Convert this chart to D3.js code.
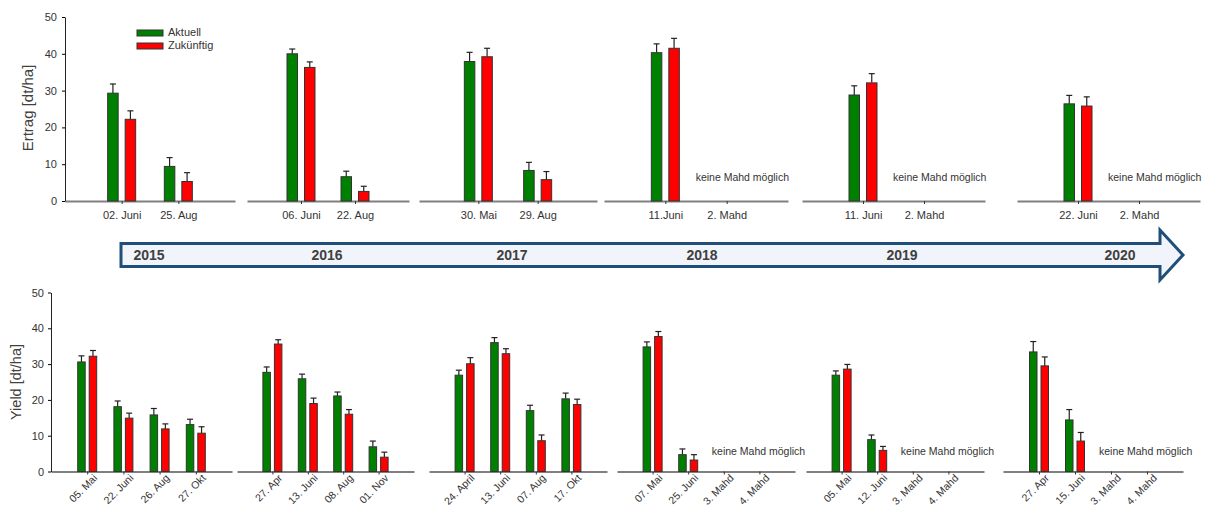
<!DOCTYPE html>
<html>
<head>
<meta charset="utf-8">
<script src="https://cdn.jsdelivr.net/npm/d3@7"></script>
<style>
  body { margin: 0; background: #fff; }
  text { font-family: "Liberation Sans", Arial, sans-serif; }
</style>
</head>
<body>
<div id="my_dataviz"></div>
<script>
// ---- data ----
var years = ["2015", "2016", "2017", "2018", "2019", "2020"];

// top row: two cuts per year (german labels)
var topDates = [
  ["02. Juni", "25. Aug"], ["06. Juni", "22. Aug"], ["30. Mai", "29. Aug"],
  ["11.Juni", "2. Mahd"], ["11. Juni", "2. Mahd"], ["22. Juni", "2. Mahd"]
];
var topAktuell    = [[29.3, 9.4], [40.0, 6.6], [37.9, 8.3], [40.3, null], [28.8, null], [26.4, null]];
var topAktuellErr = [[2.5, 2.4], [1.3, 1.5], [2.5, 2.2], [2.4, null], [2.5, null], [2.3, null]];
var topZukunft    = [[22.2, 5.3], [36.3, 2.6], [39.2, 5.8], [41.5, null], [32.1, null], [25.8, null]];
var topZukunftErr = [[2.3, 2.4], [1.5, 1.4], [2.3, 2.2], [2.7, null], [2.5, null], [2.5, null]];
var topNote = [false, false, false, true, true, true];

// bottom row: four cuts per year
var botDates = [
  ["05. Mai", "22. Juni", "26. Aug", "27. Okt"],
  ["27. Apr", "13. Juni", "08. Aug", "01. Nov"],
  ["24. April", "13. Juni", "07. Aug", "17. Okt"],
  ["07. Mai", "25. Juni", "3. Mahd", "4. Mahd"],
  ["05. Mai", "12. Juni", "3. Mahd", "4. Mahd"],
  ["27. Apr", "15. Juni", "3. Mahd", "4. Mahd"]
];
var botAktuell    = [[30.6, 18.1, 15.8, 13.1], [27.7, 25.9, 21.1, 6.9], [26.9, 36.0, 17.0, 20.3],
                     [34.8, 4.7, null, null], [26.9, 8.9, null, null], [33.4, 14.4, null, null]];
var botAktuellErr = [[1.7, 1.6, 1.8, 1.5], [1.5, 1.3, 1.1, 1.6], [1.4, 1.4, 1.5, 1.6],
                     [1.4, 1.6, null, null], [1.2, 1.3, null, null], [2.9, 2.9, null, null]];
var botZukunft    = [[32.2, 14.9, 11.9, 10.7], [35.6, 19.0, 16.0, 4.0], [30.1, 32.9, 8.6, 18.7],
                     [37.7, 3.2, null, null], [28.6, 5.9, null, null], [29.5, 8.5, null, null]];
var botZukunftErr = [[1.6, 1.4, 1.4, 1.8], [1.2, 1.5, 1.3, 1.4], [1.7, 1.4, 1.6, 1.5],
                     [1.4, 1.5, null, null], [1.3, 1.1, null, null], [2.5, 2.4, null, null]];
var botNote = [false, false, false, true, true, true];

var seriesNames = ["Aktuell", "Zukünftig"];
var seriesColors = ["#008000", "#ff0000"];
var noteText = "keine Mahd möglich";

// ---- layout ----
var width = 1208, height = 508;
var topRanges = [[65, 235], [247, 409], [419, 597], [604, 788], [802, 985], [1017, 1200]];
var botRanges = [[51, 232], [237, 414], [429, 607], [617, 795], [806, 984], [1003, 1183]];
var yearX = [149, 327, 512, 702, 902, 1120];

var svg = d3.select("#my_dataviz")
  .append("svg")
    .attr("width", width)
    .attr("height", height);

var yTop = d3.scaleLinear().domain([0, 50]).range([201, 17]);
var yBot = d3.scaleLinear().domain([0, 50]).range([471.5, 292.5]);

function drawPanel(dates, aVals, aErr, zVals, zErr, range, y, opt) {
  var g = svg.append("g");
  var x = d3.scalePoint().domain(dates).range(range).padding(1);
  var base = y(0);

  // x axis / baseline
  var ax = g.append("g")
    .attr("transform", "translate(0," + base + ")")
    .call(d3.axisBottom(x).tickSize(3).tickSizeOuter(0).tickPadding(opt.pad));
  ax.select(".domain").attr("stroke", "#808080").attr("stroke-width", 2);
  ax.selectAll(".tick line").attr("stroke", "#333");
  ax.selectAll("text")
    .style("font-size", opt.fs + "px")
    .attr("fill", "#333");
  if (opt.rotate) {
    ax.selectAll("text")
      .style("text-anchor", "end")
      .attr("dx", "0.2em")
      .attr("dy", "0.5em")
      .attr("transform", "rotate(-45)");
  }

  var series = [[aVals, aErr], [zVals, zErr]];
  series.forEach(function(s, k) {
    var pts = dates.map(function(d, i) { return {cat: d, v: s[0][i], e: s[1][i]}; })
      .filter(function(d) { return d.v != null; });
    var xOf = function(d) {
      return k == 0 ? x(d.cat) - opt.gap / 2 - opt.bw : x(d.cat) + opt.gap / 2;
    };
    // error bars (upper only)
    g.selectAll(null).data(pts).enter().append("line")
      .attr("x1", function(d) { return xOf(d) + opt.bw / 2; })
      .attr("x2", function(d) { return xOf(d) + opt.bw / 2; })
      .attr("y1", function(d) { return y(d.v); })
      .attr("y2", function(d) { return y(d.v + d.e); })
      .attr("stroke", "#222").attr("stroke-width", 1.2);
    g.selectAll(null).data(pts).enter().append("line")
      .attr("x1", function(d) { return xOf(d) + opt.bw / 2 - 3; })
      .attr("x2", function(d) { return xOf(d) + opt.bw / 2 + 3; })
      .attr("y1", function(d) { return y(d.v + d.e); })
      .attr("y2", function(d) { return y(d.v + d.e); })
      .attr("stroke", "#222").attr("stroke-width", 1.2);
    // bars
    g.selectAll(null).data(pts).enter().append("rect")
      .attr("x", xOf)
      .attr("y", function(d) { return y(d.v); })
      .attr("width", opt.bw)
      .attr("height", function(d) { return base - y(d.v); })
      .attr("fill", seriesColors[k])
      .attr("stroke", "#333")
      .attr("stroke-width", 1);
  });

  if (opt.note) {
    g.append("text")
      .attr("x", x(dates[opt.noteIdx]) + opt.noteDx)
      .attr("y", y(opt.noteY))
      .style("font-size", "10.5px")
      .attr("fill", "#333")
      .text(noteText);
  }
  return x;
}

// top row
years.forEach(function(yr, i) {
  drawPanel(topDates[i], topAktuell[i], topAktuellErr[i], topZukunft[i], topZukunftErr[i],
    topRanges[i], yTop,
    {bw: 10.5, gap: 7, fs: 11, pad: 7, rotate: false,
     note: topNote[i], noteIdx: 1, noteDx: -31, noteY: 5.5});
});

// bottom row
years.forEach(function(yr, i) {
  drawPanel(botDates[i], botAktuell[i], botAktuellErr[i], botZukunft[i], botZukunftErr[i],
    botRanges[i], yBot,
    {bw: 7.5, gap: 4, fs: 10.5, pad: 4, rotate: true,
     note: botNote[i], noteIdx: 2, noteDx: -12, noteY: 4.5});
});

// y axes
var yAxTop = svg.append("g")
  .attr("transform", "translate(" + topRanges[0][0] + ",0)")
  .call(d3.axisLeft(yTop).ticks(5).tickSize(3).tickSizeOuter(0).tickPadding(5));
var yAxBot = svg.append("g")
  .attr("transform", "translate(" + botRanges[0][0] + ",0)")
  .call(d3.axisLeft(yBot).ticks(5).tickSize(3).tickSizeOuter(0).tickPadding(4));
[yAxTop, yAxBot].forEach(function(a) {
  a.select(".domain").attr("stroke", "#222");
  a.selectAll("text").style("font-size", "11px").attr("fill", "#333");
});

svg.append("text")
  .attr("transform", "translate(33,108) rotate(-90)")
  .attr("text-anchor", "middle")
  .style("font-size", "15px")
  .attr("fill", "#404040")
  .text("Ertrag [dt/ha]");
svg.append("text")
  .attr("transform", "translate(21,382) rotate(-90)")
  .attr("text-anchor", "middle")
  .style("font-size", "14.5px")
  .attr("fill", "#404040")
  .text("Yield [dt/ha]");

// legend
var legend = svg.append("g").attr("transform", "translate(137,30)");
seriesNames.forEach(function(n, i) {
  legend.append("rect")
    .attr("x", 0).attr("y", i * 13)
    .attr("width", 26).attr("height", 6)
    .attr("fill", seriesColors[i]).attr("stroke", "#333").attr("stroke-width", 1);
  legend.append("text")
    .attr("x", 31).attr("y", i * 13 + 6)
    .style("font-size", "11px")
    .attr("fill", "#333")
    .text(n);
});

// timeline arrow
var arrow = d3.path();
arrow.moveTo(121, 243.5);
arrow.lineTo(1160, 243.5);
arrow.lineTo(1160, 230);
arrow.lineTo(1183, 255);
arrow.lineTo(1160, 280);
arrow.lineTo(1160, 266.5);
arrow.lineTo(121, 266.5);
arrow.closePath();
svg.append("path")
  .attr("d", arrow.toString())
  .attr("fill", "#f1f5fb")
  .attr("stroke", "#1f4e79")
  .attr("stroke-width", 3)
  .attr("stroke-linejoin", "miter");

svg.selectAll(".year")
  .data(years)
  .enter()
  .append("text")
    .attr("class", "year")
    .attr("x", function(d, i) { return yearX[i]; })
    .attr("y", 260)
    .attr("text-anchor", "middle")
    .style("font-size", "14px")
    .style("font-weight", "bold")
    .attr("fill", "#404040")
    .text(function(d) { return d; });
</script>
</body>
</html>
